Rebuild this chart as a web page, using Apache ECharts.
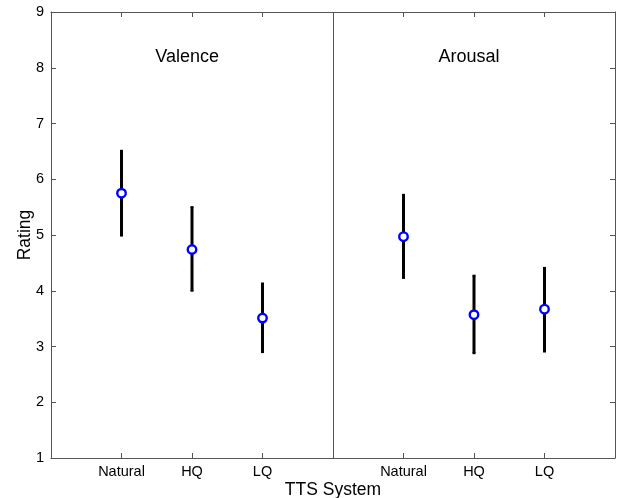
<!DOCTYPE html>
<html><head><meta charset="utf-8">
<script src="https://cdn.jsdelivr.net/npm/echarts@6/dist/echarts.min.js"></script>
<style>html,body{margin:0;padding:0;background:#fff}#c{width:625px;height:498px}</style>
</head><body><div id="c"></div>
<script>
// Data
const categories = ['Natural', 'HQ', 'LQ', 'Natural', 'HQ', 'LQ'];
const xPositions = [1, 2, 3, 5, 6, 7];
const means = [5.75, 4.74, 3.51, 4.97, 3.57, 3.67];
const lower = [4.99, 4.00, 2.90, 4.23, 2.88, 2.91];
const upper = [6.51, 5.50, 4.13, 5.72, 4.27, 4.41];
const panelTitles = ['Valence', 'Arousal'];
const panelTitleX = [1.93, 5.93];
const panelTitleY = [8.19, 8.19];
const dividerX = 4;

const FONT = 'Liberation Sans, Arial, sans-serif';
const axisCol = '#555';

const errData = xPositions.map((x, i) => [x, lower[i], upper[i]]);
const ptData = xPositions.map((x, i) => [x, means[i]]);
const labelMap = {};
xPositions.forEach((x, i) => labelMap[x] = categories[i]);

const chart = echarts.init(document.getElementById('c'));
chart.setOption({
  animation: false,
  backgroundColor: '#fff',
  grid: { left: 51, right: 10, top: 12, bottom: 40, containLabel: false, outerBoundsMode: 'none' },
  xAxis: [{
    type: 'value', min: 0, max: 8, interval: 1, position: 'bottom',
    name: 'TTS System', nameLocation: 'middle', nameGap: 23, nameMoveOverlap: false,
    nameTextStyle: { fontFamily: FONT, fontSize: 17.5, color: '#000' },
    axisLine: { onZero: false, lineStyle: { color: axisCol, width: 1 } },
    axisTick: { inside: true, length: 5, customValues: xPositions, lineStyle: { color: axisCol } },
    axisLabel: { customValues: xPositions, formatter: v => labelMap[v] || '', fontFamily: FONT, fontSize: 14.5, color: '#000', margin: 6 },
    splitLine: { show: false }
  }, {
    type: 'value', min: 0, max: 8, interval: 1, position: 'top',
    axisLine: { onZero: false, lineStyle: { color: axisCol, width: 1 } },
    axisTick: { inside: true, length: 5, customValues: xPositions, lineStyle: { color: axisCol } },
    axisLabel: { show: false }, splitLine: { show: false }
  }],
  yAxis: [{
    type: 'value', min: 1, max: 9, interval: 1, position: 'left',
    name: 'Rating', nameLocation: 'middle', nameGap: 17, nameRotate: 90, nameMoveOverlap: false,
    nameTextStyle: { fontFamily: FONT, fontSize: 17.5, color: '#000' },
    axisLine: { show: true, onZero: false, lineStyle: { color: axisCol, width: 1 } },
    axisTick: { show: true, inside: true, length: 5, lineStyle: { color: axisCol } },
    axisLabel: { fontFamily: FONT, fontSize: 14.5, color: '#000', margin: 7 },
    splitLine: { show: false }
  }, {
    type: 'value', min: 1, max: 9, interval: 1, position: 'right',
    axisLine: { show: true, onZero: false, lineStyle: { color: axisCol, width: 1 } },
    axisTick: { show: true, inside: true, length: 5, lineStyle: { color: axisCol } },
    axisLabel: { show: false }, splitLine: { show: false }
  }],
  series: [{
    type: 'custom',
    data: errData,
    renderItem: function (params, api) {
      const x = api.value(0);
      const lo = api.coord([x, api.value(1)]);
      const hi = api.coord([x, api.value(2)]);
      const cw = 1.5;
      return {
        type: 'group', children: [
          { type: 'line', shape: { x1: lo[0], y1: lo[1], x2: hi[0], y2: hi[1] }, style: { stroke: '#000', lineWidth: 3 } },
          { type: 'line', shape: { x1: lo[0] - cw, y1: lo[1], x2: lo[0] + cw, y2: lo[1] }, style: { stroke: '#000', lineWidth: 2 } },
          { type: 'line', shape: { x1: hi[0] - cw, y1: hi[1], x2: hi[0] + cw, y2: hi[1] }, style: { stroke: '#000', lineWidth: 2 } }
        ]
      };
    },
    markLine: {
      silent: true, symbol: ['none', 'none'], label: { show: false },
      lineStyle: { color: axisCol, width: 1, type: 'solid' },
      data: [{ xAxis: dividerX }]
    },
    z: 2
  }, {
    type: 'scatter',
    data: ptData,
    symbol: 'circle', symbolSize: 8.5,
    itemStyle: { color: '#fff', borderColor: '#0000ff', borderWidth: 2.4, opacity: 1 },
    z: 3
  }, {
    type: 'scatter',
    data: panelTitles.map((t, i) => ({ value: [panelTitleX[i], panelTitleY[i]], name: t })),
    symbolSize: 0,
    itemStyle: { opacity: 1 },
    label: { show: true, position: 'inside', formatter: p => p.name, fontFamily: FONT, fontSize: 18, color: '#000' },
    z: 4
  }]
});
</script></body></html>
